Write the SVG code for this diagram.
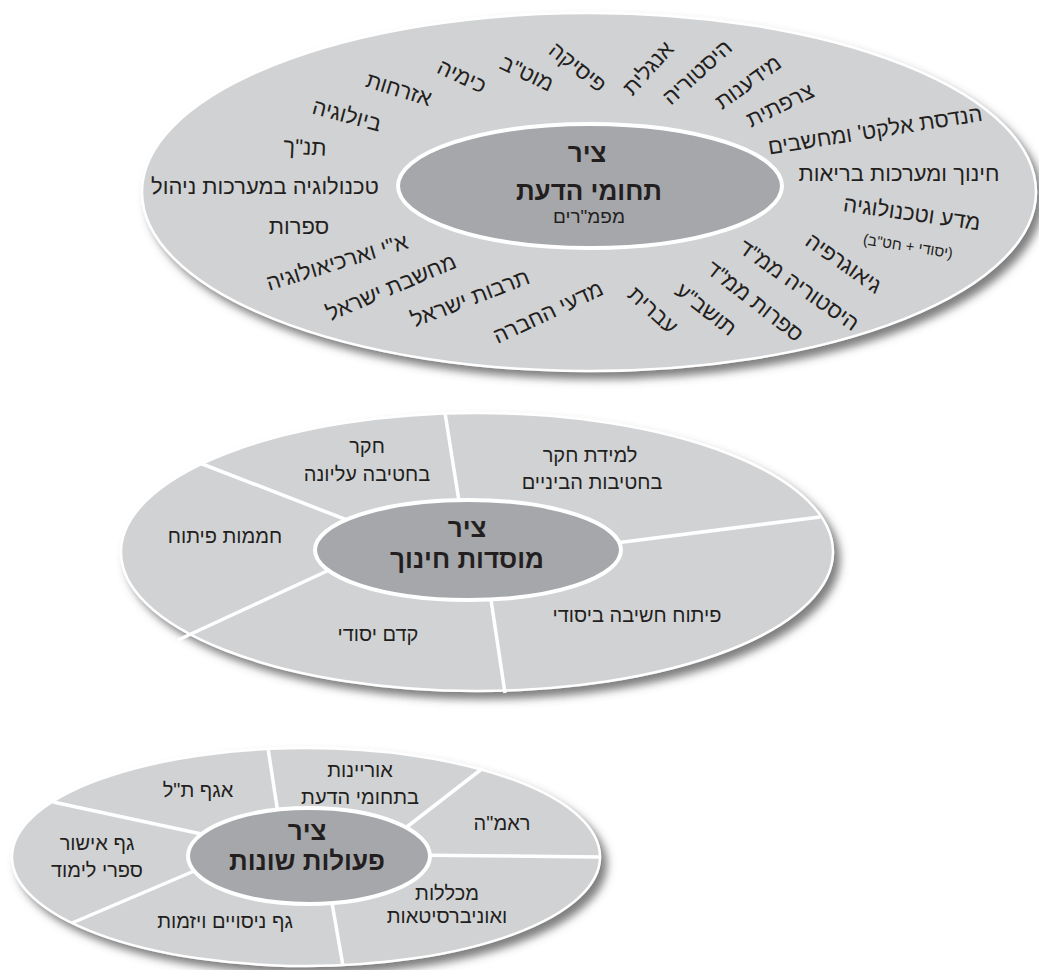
<svg xmlns="http://www.w3.org/2000/svg" width="1039" height="970" viewBox="0 0 1039 970">
<style>
text{font-family:"Liberation Sans","DejaVu Sans",sans-serif;fill:#231f20;text-anchor:middle;direction:rtl}
.lbl{font-size:22px}
.sm{font-size:15px}
.mid{font-size:20px}
.hub{font-size:26px;font-weight:bold}
.hubs{font-size:19px}
.outer{fill:#d1d2d4;stroke:#fff;stroke-width:2.5}
.inner{fill:#a6a7aa;stroke:#fff;stroke-width:4}
.div{stroke:#fff;stroke-width:3.5;fill:none}
</style>
<defs>
<filter id="sh" x="-10%" y="-10%" width="125%" height="130%">
<feGaussianBlur in="SourceAlpha" stdDeviation="4"/>
<feOffset dx="6" dy="7" result="b"/>
<feFlood flood-color="#555" flood-opacity="0.75"/>
<feComposite in2="b" operator="in" result="s"/>
<feMerge><feMergeNode in="s"/><feMergeNode in="SourceGraphic"/></feMerge>
</filter>
</defs>
<rect width="1039" height="970" fill="#fff"/>

<!-- TOP DIAGRAM -->
<g id="top-outer">
<ellipse class="outer" cx="589" cy="192" rx="447" ry="179" filter="url(#sh)"/>
</g>
<g id="top-hub">
<ellipse class="inner" cx="590" cy="186" rx="192" ry="62"/>
<text class="hub" x="587" y="162">ציר</text>
<text class="hub" x="589" y="200">תחומי הדעת</text>
<text class="hubs" x="589" y="223">מפמ"רים</text>
</g>
<g id="top-labels">
<text class="lbl" transform="translate(462,76) rotate(25)" dy="0.35em">כימיה</text>
<text class="lbl" transform="translate(527,73) rotate(25)" dy="0.35em">מוט"ב</text>
<text class="lbl" transform="translate(578,67) rotate(38)" dy="0.35em">פיסיקה</text>
<text class="lbl" transform="translate(648,68) rotate(-48)" dy="0.35em">אנגלית</text>
<text class="lbl" transform="translate(697,72) rotate(-42)" dy="0.35em">היסטוריה</text>
<text class="lbl" transform="translate(748,82) rotate(-36)" dy="0.35em">מידענות</text>
<text class="lbl" transform="translate(780,105) rotate(-26)" dy="0.35em">צרפתית</text>
<text class="lbl" transform="translate(875,130) rotate(-9)" dy="0.35em">הנדסת אלקט' ומחשבים</text>
<text class="lbl" transform="translate(899,173)" dy="0.35em">חינוך ומערכות בריאות</text>
<text class="lbl" transform="translate(912,213) rotate(8)" dy="0.35em">מדע וטכנולוגיה</text>
<text class="sm" transform="translate(908,246) rotate(9)" dy="0.35em">(יסודי + חט"ב)</text>
<text class="lbl" transform="translate(844,263) rotate(35)" dy="0.35em">גיאוגרפיה</text>
<text class="lbl" transform="translate(799,285) rotate(35)" dy="0.35em">היסטוריה ממ"ד</text>
<text class="lbl" transform="translate(755,301) rotate(38)" dy="0.35em">ספרות ממ"ד</text>
<text class="lbl" transform="translate(706,309) rotate(38)" dy="0.35em">תושב"ע</text>
<text class="lbl" transform="translate(653,310) rotate(42)" dy="0.35em">עברית</text>
<text class="lbl" transform="translate(548,312) rotate(-25)" dy="0.35em">מדעי החברה</text>
<text class="lbl" transform="translate(470,298) rotate(-21)" dy="0.35em">תרבות ישראל</text>
<text class="lbl" transform="translate(391,287) rotate(-23)" dy="0.35em">מחשבת ישראל</text>
<text class="lbl" transform="translate(337,262) rotate(-17)" dy="0.35em">א"י וארכיאולוגיה</text>
<text class="lbl" transform="translate(299,226)" dy="0.35em">ספרות</text>
<text class="lbl" transform="translate(265,186)" dy="0.35em">טכנולוגיה במערכות ניהול</text>
<text class="lbl" transform="translate(305,147) rotate(3)" dy="0.35em">תנ"ך</text>
<text class="lbl" transform="translate(347,115) rotate(15)" dy="0.35em">ביולוגיה</text>
<text class="lbl" transform="translate(399,89) rotate(17)" dy="0.35em">אזרחות</text>
</g>

<!-- MIDDLE DIAGRAM -->
<g id="mid-outer">
<ellipse class="outer" cx="477" cy="552" rx="356" ry="139" filter="url(#sh)"/>
</g>
<g id="mid-connectors">
<line class="div" x1="445" y1="413" x2="462" y2="520"/>
<line class="div" x1="192" y1="460" x2="360" y2="525"/>
<line class="div" x1="178" y1="640" x2="340" y2="565"/>
<line class="div" x1="505" y1="693" x2="488" y2="580"/>
<line class="div" x1="820" y1="517" x2="600" y2="545"/>
</g>
<g id="mid-hub">
<ellipse class="inner" cx="468" cy="550" rx="153" ry="50"/>
<text class="hub" x="467" y="537">ציר</text>
<text class="hub" x="467" y="568">מוסדות חינוך</text>
</g>
<g id="mid-labels">
<text class="mid" x="367" y="453">חקר</text>
<text class="mid" x="367" y="481">בחטיבה עליונה</text>
<text class="mid" x="590" y="462">למידת חקר</text>
<text class="mid" x="592" y="489">בחטיבות הביניים</text>
<text class="mid" x="225" y="543">חממות פיתוח</text>
<text class="mid" x="378" y="641">קדם יסודי</text>
<text class="mid" x="637" y="622">פיתוח חשיבה ביסודי</text>
</g>

<!-- BOTTOM DIAGRAM -->
<g id="bot-outer">
<ellipse class="outer" cx="306" cy="857" rx="294" ry="109" filter="url(#sh)"/>
</g>
<g id="bot-connectors">
<line class="div" x1="268" y1="748" x2="282" y2="840"/>
<line class="div" x1="483" y1="768" x2="390" y2="840"/>
<line class="div" x1="599" y1="857" x2="400" y2="855"/>
<line class="div" x1="343" y1="966" x2="328" y2="880"/>
<line class="div" x1="72" y1="923" x2="220" y2="860"/>
<line class="div" x1="53" y1="802" x2="220" y2="838"/>
</g>
<g id="bot-hub">
<ellipse class="inner" cx="309" cy="856" rx="121" ry="48"/>
<text class="hub" x="307" y="840">ציר</text>
<text class="hub" x="307" y="870">פעולות שונות</text>
</g>
<g id="bot-labels">
<text class="mid" x="360" y="777">אוריינות</text>
<text class="mid" x="360" y="804">בתחומי הדעת</text>
<text class="mid" x="198" y="797">אגף ת"ל</text>
<text class="mid" x="502" y="830">ראמ"ה</text>
<text class="mid" x="97" y="850">גף אישור</text>
<text class="mid" x="97" y="877">ספרי לימוד</text>
<text class="mid" x="447" y="900">מכללות</text>
<text class="mid" x="447" y="923">ואוניברסיטאות</text>
<text class="mid" x="225" y="928">גף ניסויים ויזמות</text>
</g>
</svg>
